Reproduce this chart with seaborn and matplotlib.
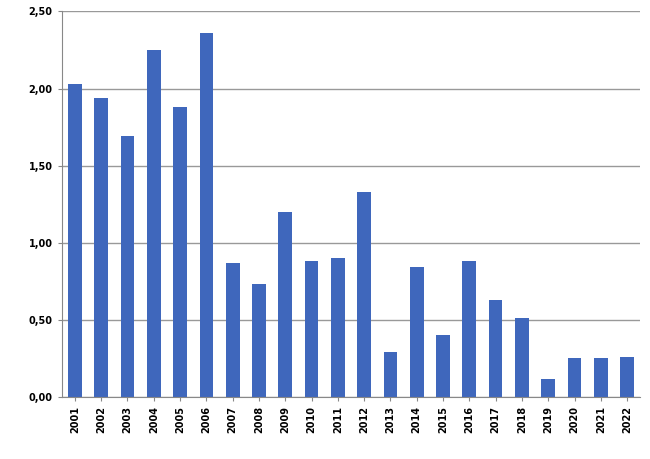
import matplotlib
matplotlib.use("Agg")
import matplotlib.pyplot as plt
import seaborn as sns
import pandas as pd

years = [str(y) for y in range(2001, 2023)]
values = [2.03, 1.94, 1.69, 2.25, 1.88, 2.36, 0.87, 0.73, 1.20, 0.88, 0.90, 1.33,
          0.29, 0.84, 0.40, 0.88, 0.63, 0.51, 0.12, 0.25, 0.25, 0.26]
yticks = [0, 0.5, 1.0, 1.5, 2.0, 2.5]
ytick_labels = ["0,00", "0,50", "1,00", "1,50", "2,00", "2,50"]

df = pd.DataFrame({"year": years, "value": values})
fig = plt.figure(figsize=(6.5, 4.59), dpi=100)
ax = fig.add_axes([0.095, 0.135, 0.89, 0.84])
sns.barplot(data=df, x="year", y="value", color="#3F67BC", saturation=1, width=0.52, ax=ax)
ax.set_ylim(0, 2.5)
ax.set_yticks(yticks)
ax.set_yticklabels(ytick_labels, fontsize=7, fontweight="bold")
ax.set_xticks(range(len(years)))
ax.set_xticklabels(years, rotation=90, fontsize=7, fontweight="bold")
ax.yaxis.grid(True, color="#999999", linewidth=1)
ax.set_axisbelow(True)
ax.set_xlabel("")
ax.set_ylabel("")
for s in ["top", "right"]:
    ax.spines[s].set_visible(False)
ax.spines["left"].set_color("#888888")
ax.spines["bottom"].set_color("#888888")
ax.tick_params(axis="both", length=3, color="#888888")
fig.savefig("out.png", dpi=100)
